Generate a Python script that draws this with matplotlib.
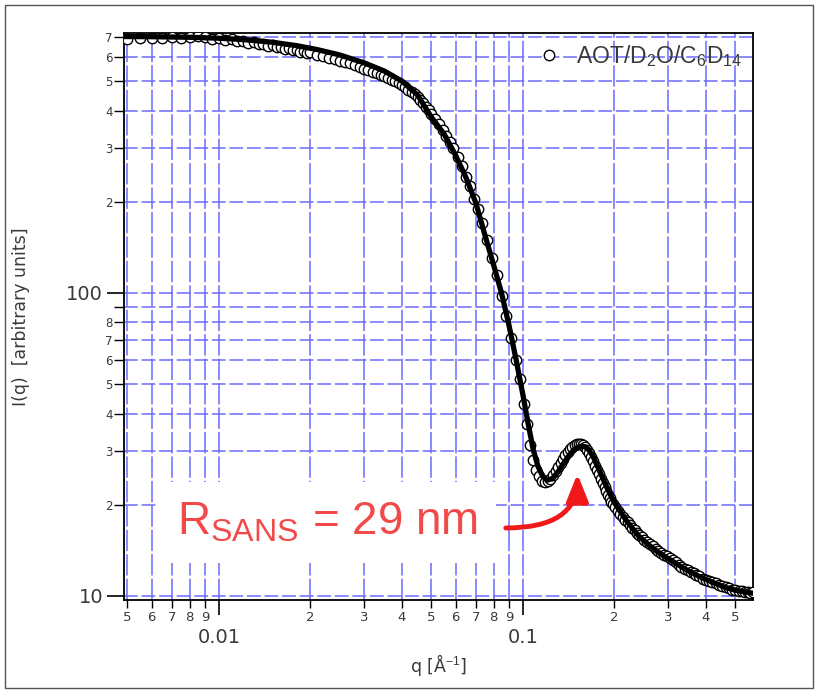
import numpy as np
import matplotlib
matplotlib.use("Agg")
import matplotlib.pyplot as plt
from matplotlib.ticker import LogLocator, FuncFormatter
from matplotlib.patches import Rectangle

plt.rcParams["font.family"] = ["DejaVu Sans"]
plt.rcParams["mathtext.fontset"] = "custom"
plt.rcParams["mathtext.rm"] = "Liberation Sans"
plt.rcParams["mathtext.it"] = "Liberation Sans:italic"

# measured SANS data (q in 1/A, intensity in arbitrary units)
q_data = [
    0.0050, 0.0055, 0.0060, 0.0065, 0.0070, 0.0075, 0.0080, 0.0085, 0.0090, 0.0095,
    0.0100, 0.0105, 0.0110, 0.0115, 0.0120, 0.0125, 0.0130, 0.0135, 0.0140, 0.0145,
    0.0150, 0.0155, 0.0160, 0.0165, 0.0170, 0.0175, 0.0180, 0.0185, 0.0190, 0.0195,
    0.0200, 0.0210, 0.0220, 0.0230, 0.0240, 0.0250, 0.0260, 0.0270, 0.0280, 0.0290,
    0.0300, 0.0310, 0.0320, 0.0330, 0.0340, 0.0350, 0.0360, 0.0370, 0.0380, 0.0390,
    0.0400, 0.0410, 0.0420, 0.0430, 0.0440, 0.0450, 0.0460, 0.0470, 0.0480, 0.0490,
    0.0500, 0.0515, 0.0530, 0.0545, 0.0560, 0.0575, 0.0590, 0.0610, 0.0630, 0.0650,
    0.0670, 0.0690, 0.0710, 0.0735, 0.0760, 0.0790, 0.0820, 0.0850, 0.0880, 0.0910,
    0.0945, 0.0975, 0.1005, 0.1030, 0.1055, 0.1080, 0.1105, 0.1130, 0.1155, 0.1180,
    0.1205, 0.1230, 0.1255, 0.1280, 0.1305, 0.1330, 0.1355, 0.1380, 0.1405, 0.1430,
    0.1455, 0.1480, 0.1505, 0.1530, 0.1555, 0.1580, 0.1605, 0.1630, 0.1655, 0.1680,
    0.1705, 0.1730, 0.1755, 0.1780, 0.1805, 0.1830, 0.1855, 0.1880, 0.1905, 0.1930,
    0.1955, 0.1980, 0.2010, 0.2050, 0.2090, 0.2130, 0.2170, 0.2210, 0.2250, 0.2290,
    0.2330, 0.2370, 0.2410, 0.2460, 0.2510, 0.2560, 0.2610, 0.2670, 0.2730, 0.2790,
    0.2850, 0.2910, 0.2970, 0.3040, 0.3110, 0.3180, 0.3250, 0.3320, 0.3400, 0.3480,
    0.3560, 0.3640, 0.3720, 0.3800, 0.3900, 0.4000, 0.4100, 0.4200, 0.4300, 0.4400,
    0.4520, 0.4640, 0.4760, 0.4880, 0.5000, 0.5120, 0.5240, 0.5360, 0.5480, 0.5600,
    0.5720,
]
i_data = [
    690, 693, 695, 692, 697, 694, 700, 703, 698, 690,
    692, 685, 688, 676, 680, 670, 672, 663, 665, 655,
    657, 648, 650, 640, 642, 634, 636, 626, 628, 620,
    622, 612, 606, 598, 592, 585, 578, 572, 564, 558,
    550, 545, 538, 532, 526, 520, 512, 505, 500, 492,
    485, 478, 468, 462, 452, 445, 432, 424, 410, 402,
    390, 375, 360, 345, 330, 315, 300, 280, 262, 242,
    225, 205, 190, 170, 150, 130, 115, 98, 84, 71,
    60, 52, 43, 37, 31.5, 28, 26, 24.8, 24.0, 23.8,
    23.9, 24.4, 25.0, 25.8, 26.6, 27.5, 28.4, 29.2, 29.9, 30.5,
    31.0, 31.4, 31.7, 31.8, 31.7, 31.4, 31.0, 30.4, 29.6, 28.7,
    27.8, 26.9, 26.0, 25.2, 24.4, 23.6, 22.9, 22.2, 21.6, 21.0,
    20.5, 20.1, 19.7, 19.1, 18.6, 18.2, 17.8, 17.5, 17.1, 16.8,
    16.5, 16.2, 15.9, 15.6, 15.3, 15.1, 14.8, 14.6, 14.3, 14.1,
    13.9, 13.7, 13.5, 13.3, 13.1, 12.9, 12.7, 12.5, 12.3, 12.2,
    12.0, 11.9, 11.7, 11.6, 11.4, 11.3, 11.2, 11.1, 11.0, 10.9,
    10.8, 10.7, 10.6, 10.5, 10.45, 10.4, 10.35, 10.3, 10.3, 10.25,
    10.3,
]

# model fit curve
fit_q = [0.0049, 0.006, 0.008, 0.01, 0.012, 0.015, 0.018, 0.021, 0.025, 0.03,
         0.035, 0.04, 0.045, 0.05, 0.055, 0.06, 0.065, 0.07, 0.075, 0.08,
         0.085, 0.09, 0.095, 0.1, 0.104, 0.108, 0.112, 0.116, 0.12, 0.125,
         0.13, 0.135, 0.14, 0.145, 0.15, 0.155, 0.16, 0.165, 0.17, 0.18,
         0.19, 0.2, 0.22, 0.24, 0.26, 0.28, 0.3, 0.34, 0.38, 0.42,
         0.46, 0.5, 0.54, 0.575]
fit_i = [702, 701, 698, 693, 686, 672, 655, 636, 610, 575,
         540, 500, 450, 380, 335, 285, 240, 198, 155, 124,
         100, 78, 60, 46, 37, 30.5, 26.8, 24.9, 24.1, 24.4,
         25.6, 27.1, 28.6, 29.9, 30.8, 31.2, 31.1, 30.3, 28.9, 25.4,
         22.5, 20.3, 17.6, 15.8, 14.7, 13.9, 13.3, 12.3, 11.6, 11.1,
         10.7, 10.45, 10.3, 10.2]

series_label = "AOT/D$_2$O/C$_6$D$_{14}$"
annotation_text = r"$\mathrm{R_{SANS}}$ = 29 nm"

GRID_BLUE = "#6b6bff"
LABEL_GRAY = "#3a3a3a"


def digit_label(v, pos, skip=()):
    exp = np.floor(np.log10(v))
    m = int(round(v / 10 ** exp))
    if m in skip:
        return ""
    return str(m) if 2 <= m <= 9 else ""


def major_label(v, pos):
    return "%g" % v


fig = plt.figure(figsize=(8.25, 6.95), dpi=100)
ax = fig.add_axes([0.1503, 0.1367, 0.9127 - 0.1503, 0.9525 - 0.1367])

ax.plot(q_data, i_data, "o", ms=7.5, mfc="white", mec="black", mew=1.0,
        label=series_label, zorder=3)
ax.plot(fit_q, fit_i, "-", color="black", lw=3.8, zorder=4)

ax.set_xscale("log")
ax.set_yscale("log")
ax.set_xlim(0.00487, 0.571)
ax.set_ylim(9.7, 721)

for axis in (ax.xaxis, ax.yaxis):
    axis.set_major_locator(LogLocator(base=10, numticks=20))
    axis.set_minor_locator(LogLocator(base=10, subs=np.arange(2, 10), numticks=20))
    axis.set_major_formatter(FuncFormatter(major_label))
ax.xaxis.set_minor_formatter(FuncFormatter(digit_label))
# the 90 tick sits right under "100", so it carries no label
ax.yaxis.set_minor_formatter(FuncFormatter(lambda v, p: digit_label(v, p, skip=(9,))))

ax.tick_params(axis="x", which="major", direction="out", length=11, width=1.2,
               pad=9, labelsize=14, colors="black", labelcolor=LABEL_GRAY)
ax.tick_params(axis="x", which="minor", direction="out", length=6, width=1.0,
               pad=2, labelsize=9.5, colors="black", labelcolor=LABEL_GRAY)
ax.tick_params(axis="y", which="major", direction="out", length=12, width=1.2,
               pad=3, labelsize=14, colors="black", labelcolor=LABEL_GRAY)
ax.tick_params(axis="y", which="minor", direction="out", length=7, width=1.0,
               pad=1, labelsize=8.5, colors="black", labelcolor=LABEL_GRAY)

ax.grid(True, axis="x", which="both", color=GRID_BLUE, lw=1.1, ls=(0, (14, 2)))
ax.grid(True, axis="y", which="both", color=GRID_BLUE, lw=1.1, ls=(0, (9, 2.5)))
ax.set_axisbelow(True)
for sp in ax.spines.values():
    sp.set_linewidth(1.3)

ax.set_xlabel("q [Å$^{-1}$]", fontsize=12.5, color=LABEL_GRAY, labelpad=4)
ax.set_ylabel("I(q)  [arbitrary units]", fontsize=12.5, color=LABEL_GRAY, labelpad=26)

leg = ax.legend(loc="upper right", frameon=False, handletextpad=0.7,
                borderaxespad=0.05, handlelength=1.0,
                prop={"family": "Liberation Sans", "size": 16.5})
for t in leg.get_texts():
    t.set_color(LABEL_GRAY)

# R_SANS callout
ax.text(0.323, 0.137, annotation_text, transform=ax.transAxes, ha="center", va="center",
        fontsize=33, family="Liberation Sans", color="#f24a4a", zorder=5,
        bbox=dict(boxstyle="square,pad=0.4", fc="white", ec="none"))
ax.annotate("", xy=(0.151, 25.3), xycoords="data",
            xytext=(0.607, 0.127), textcoords="axes fraction",
            arrowprops=dict(arrowstyle="-|>,head_length=0.75,head_width=0.3",
                            connectionstyle="angle3,angleA=0,angleB=90",
                            color="#f01818", lw=3.5, shrinkA=0, shrinkB=0,
                            mutation_scale=22),
            zorder=6)

fig.patches.append(Rectangle((5 / 825, 7 / 695), 808 / 825, 683 / 695,
                             transform=fig.transFigure, fill=False,
                             ec="#555555", lw=1.0))

fig.savefig("out.png", dpi=100)
